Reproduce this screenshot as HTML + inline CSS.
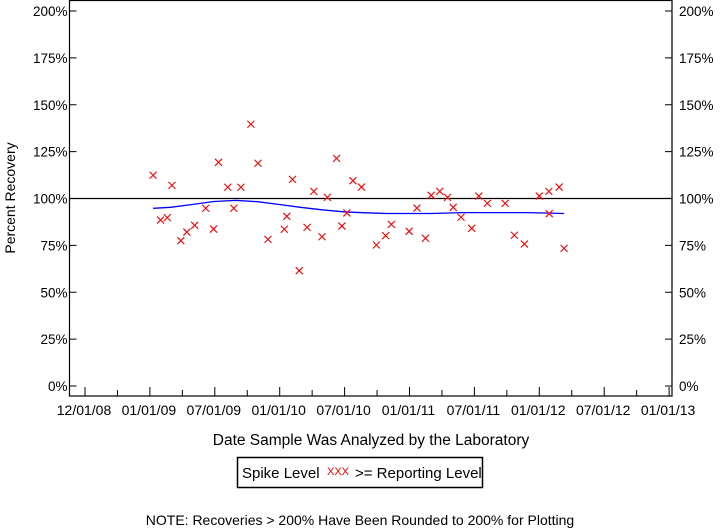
<!DOCTYPE html>
<html><head><meta charset="utf-8"><style>
body{margin:0;background:#fff;}
svg{display:block;font-family:"Liberation Sans",sans-serif;}
</style></head><body>
<svg id="c" width="720" height="528" viewBox="0 0 720 528">
<rect x="0" y="0" width="720" height="528" fill="#fff"/>
<g id="axes"></g>
<g id="marks"></g>
<text x="15" y="198" font-size="14" text-anchor="middle" transform="rotate(-90 15 198)">Percent Recovery</text>
<text x="371" y="445" font-size="15.5" text-anchor="middle">Date Sample Was Analyzed by the Laboratory</text>
<g>
<rect x="237.5" y="457.5" width="245" height="30" fill="none" stroke="#000" stroke-width="1.5"/>
<text x="242" y="478" font-size="15">Spike Level</text>
<text x="327" y="475" font-size="11" fill="#f00">XXX</text>
<text x="355" y="478" font-size="15">&gt;= Reporting Level</text>
</g>
<text x="360" y="525" font-size="14" text-anchor="middle">NOTE: Recoveries &gt; 200% Have Been Rounded to 200% for Plotting</text>
</svg>
<script>
const dates=["2009-01-11","2009-03-05","2009-02-01","2009-02-20","2009-03-30","2009-04-16","2009-05-08","2009-06-08","2009-06-30","2009-07-14","2009-08-09","2009-08-26","2009-09-15","2009-10-13","2009-11-02","2009-11-30","2010-01-15","2010-01-22","2010-02-07","2010-02-26","2010-03-20","2010-04-08","2010-05-01","2010-05-16","2010-06-11","2010-06-26","2010-07-10","2010-07-27","2010-08-20","2010-10-01","2010-10-27","2010-11-12","2011-01-01","2011-01-23","2011-02-16","2011-03-04","2011-03-28","2011-04-19","2011-05-05","2011-05-27","2011-06-26","2011-07-16","2011-08-09","2011-09-28","2011-10-24","2011-11-21","2012-01-02","2012-01-29","2012-02-27","2012-01-30","2012-03-12"];
const recovery=[112.4,107.0,88.5,89.8,77.5,82.1,85.7,94.8,83.7,119.3,106.0,94.8,106.0,139.6,118.8,78.2,83.6,90.5,110.2,61.5,84.6,103.8,79.6,100.6,121.4,85.3,92.3,109.5,106.1,75.2,80.2,86.2,82.5,94.9,78.8,101.7,103.8,100.6,95.3,90.0,84.1,101.3,97.4,97.4,80.4,75.7,101.3,103.8,106.1,91.9,73.4];
const smoothDates=["2009-01-11","2009-03-01","2009-05-01","2009-07-01","2009-09-01","2009-11-01","2010-01-01","2010-03-01","2010-05-01","2010-07-01","2010-09-01","2010-11-01","2011-03-01","2011-06-01","2011-12-01","2012-03-12"];
const smoothValues=[94.8,95.3,96.8,98.4,99.0,98.3,96.8,95.3,94.0,92.9,92.4,92.0,92.0,92.5,92.5,92.0];
const yTicks=[0,25,50,75,100,125,150,175,200];
const xTickLabels=["12/01/08","01/01/09","07/01/09","01/01/10","07/01/10","01/01/11","07/01/11","01/01/12","07/01/12","01/01/13"];
const referenceLine=100;

const NS="http://www.w3.org/2000/svg";
const L=69.5,R=672,T=0.5,B=396;
function yS(v){return 386-v*1.875;}
function decYear(s){const d=new Date(s+"T00:00:00Z");const y=d.getUTCFullYear();const s0=Date.UTC(y,0,1),s1=Date.UTC(y+1,0,1);return y+(d-s0)/(s1-s0);}
function xS(s){return 149.5+(decYear(s)-2009)*129.8;}
function mk(tag,attrs,parent){const e=document.createElementNS(NS,tag);for(const k in attrs)e.setAttribute(k,attrs[k]);parent.appendChild(e);return e;}
const ax=document.getElementById('axes'),mg=document.getElementById('marks');
const frame=mk('rect',{x:L,y:T,width:R-L,height:B-T,fill:'none',stroke:'#000','stroke-width':1.2},ax);


yTicks.forEach(v=>{
  const y=yS(v);
  const t1=mk('line',{x1:L,x2:L+7,y1:y,y2:y,stroke:'#000'},ax);
  
  
  const t2=mk('line',{x1:R-7,x2:R,y1:y,y2:y,stroke:'#000'},ax);
  
  
  const a=mk('text',{x:L-2,y:y+5,'font-size':13.5,'text-anchor':'end'},ax);a.textContent=v+'%';
  
  
  const b=mk('text',{x:R+7,y:y+5,'font-size':13.5},ax);b.textContent=v+'%';
  
  
});
xTickLabels.forEach((lab,i)=>{
  const x=85+i*64.9;
  const t=mk('line',{x1:x,x2:x,y1:B,y2:B-9,stroke:'#000'},ax);
  
  
  if(i<xTickLabels.length-1){
    const m=mk('line',{x1:x+32.45,x2:x+32.45,y1:B,y2:B-6,stroke:'#000'},ax);
    
    
  }
  const tx=mk('text',{x:x-1,y:415,'font-size':14,'text-anchor':'middle'},ax);tx.textContent=lab;
  
  
});
const ref=mk('line',{x1:L,x2:R,y1:yS(referenceLine),y2:yS(referenceLine),stroke:'#000','stroke-width':1.3},mg);


const pts=smoothDates.map((d,i)=>xS(d).toFixed(1)+','+yS(smoothValues[i]).toFixed(1)).join(' ');
const sl=mk('polyline',{points:pts,fill:'none',stroke:'#00f','stroke-width':1.3},mg);


dates.forEach((d,i)=>{
  const x=xS(d),y=yS(recovery[i]),s=3.5;
  const p=mk('path',{d:`M${x-s},${y-s}L${x+s},${y+s}M${x-s},${y+s}L${x+s},${y-s}`,stroke:'#f00','stroke-width':1.1,fill:'none'},mg);
  
  
});
</script>
</body></html>
